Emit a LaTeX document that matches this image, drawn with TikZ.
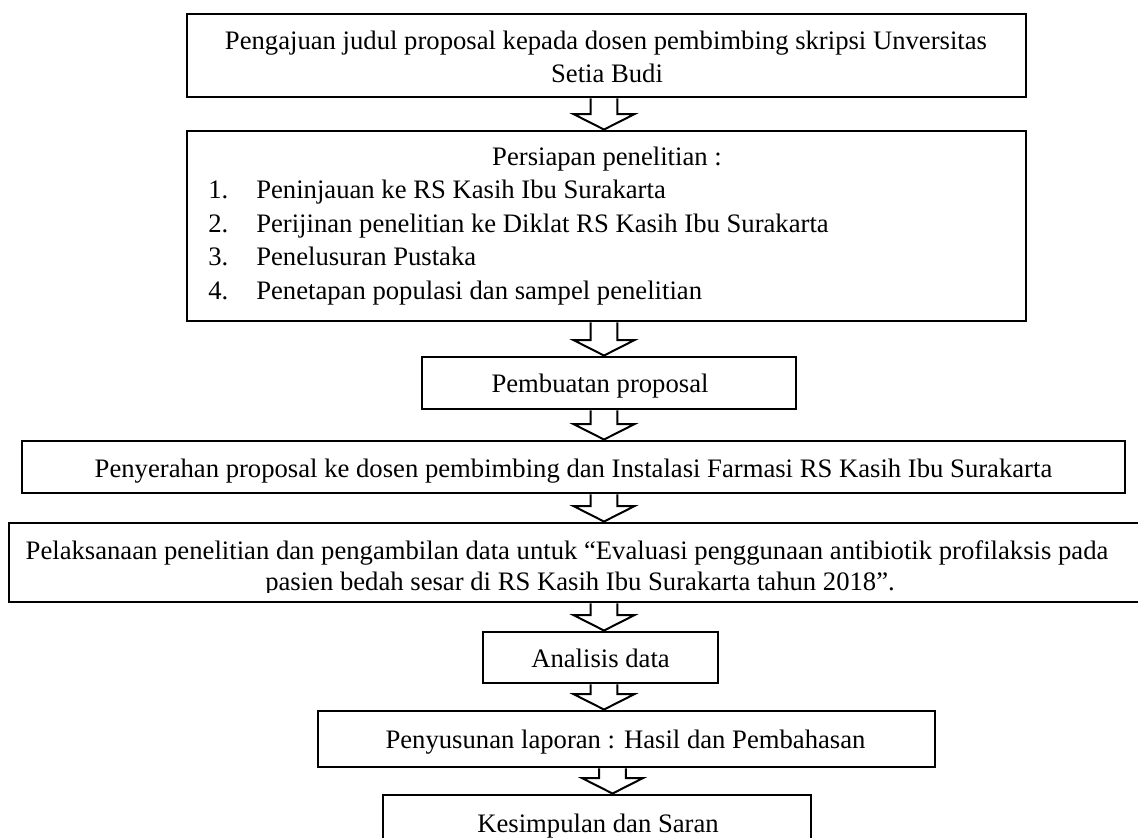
\documentclass[tikz,border=0pt]{standalone}
\usepackage{fontspec}
\setmainfont{Liberation Serif}
\usetikzlibrary{fit,calc}
\newcommand\blockarr[2]{%
  \filldraw[barrow] let \p1=(#1), \p2=(#2) in
    (\x1-10.1pt,\y1) -- (\x1-10.1pt,\y2+11.6pt) -- (\x1-22.9pt,\y2+11.6pt)
    -- (\x2,\y2) -- (\x1+22.9pt,\y2+11.6pt) -- (\x1+10.1pt,\y2+11.6pt)
    -- (\x1+10.1pt,\y1);}
\begin{document}
\begin{tikzpicture}[x=0.75pt,y=-0.75pt,
  box/.style={draw, line width=2.2pt, inner sep=0pt},
  txt/.style={font=\fontsize{20}{24}\selectfont, inner sep=0pt, anchor=base},
  ltxt/.style={txt, anchor=base west},
  barrow/.style={draw=black, fill=white, line width=1.5pt, line join=miter}]
\useasboundingbox[fill=white] (0,0) rectangle (1138,838);
% boxes
\node[box, fit={(187,14) (1026,97)}] (b1) {};
\node[box, fit={(187,131) (1026,321)}] (b2) {};
\node[box, fit={(422,357) (796,409)}] (b3) {};
\node[box, fit={(22,441) (1125,493)}] (b4) {};
\node[box, fit={(9,523) (1170,602)}] (b5) {};
\node[box, fit={(483,632) (718,683)}] (b6) {};
\node[box, fit={(318,711) (935,767)}] (b7) {};
\node[box, fit={(383,795) (811,870)}] (b8) {};
% texts
\node[txt] (t1a) at (606,49.5) {Pengajuan judul proposal kepada dosen pembimbing skripsi Unversitas};
\node[txt] (t1b) at (607,83) {Setia Budi};
\node[txt] (t2) at (607,166) {Persiapan penelitian :};
\node[ltxt] (n1) at (208,198.5) {1.};
\node[ltxt] (i1) at (256,198.5) {Peninjauan ke RS Kasih Ibu Surakarta};
\node[ltxt] (n2) at (208,232) {2.};
\node[ltxt] (i2) at (256,232) {Perijinan penelitian ke Diklat RS Kasih Ibu Surakarta};
\node[ltxt] (n3) at (208,265.5) {3.};
\node[ltxt] (i3) at (256,265.5) {Penelusuran Pustaka};
\node[ltxt] (n4) at (208,299) {4.};
\node[ltxt] (i4) at (256,299) {Penetapan populasi dan sampel penelitian};
\node[txt] (t3) at (600,392) {Pembuatan proposal};
\node[txt] (t4) at (573.5,477) {Penyerahan proposal ke dosen pembimbing dan Instalasi Farmasi RS Kasih Ibu Surakarta};
\node[txt] (t5a) at (567,559) {Pelaksanaan penelitian dan pengambilan data untuk “Evaluasi penggunaan antibiotik profilaksis pada};
\begin{scope}
\clip (0,523) rectangle (1138,592.5);
\node[txt] (t5b) at (580,590) {pasien bedah sesar di RS Kasih Ibu Surakarta tahun 2018”.};
\end{scope}
\node[txt] (t6) at (600.5,667) {Analisis data};
\node[txt] (t7) at (625.5,748) {Penyusunan laporan : Hasil dan Pembahasan};
\node[txt] (t8) at (598,832) {Kesimpulan dan Saran};
% block arrows
\coordinate (ax) at (604,0);
\coordinate (axb) at (612.5,0);
\blockarr{b1.south -| ax}{b2.north -| ax}
\blockarr{b2.south -| ax}{b3.north -| ax}
\blockarr{b3.south -| ax}{b4.north -| ax}
\blockarr{b4.south -| ax}{b5.north -| ax}
\blockarr{b5.south -| ax}{b6.north -| ax}
\blockarr{b6.south -| ax}{b7.north -| ax}
\blockarr{b7.south -| axb}{b8.north -| axb}
\end{tikzpicture}
\end{document}
